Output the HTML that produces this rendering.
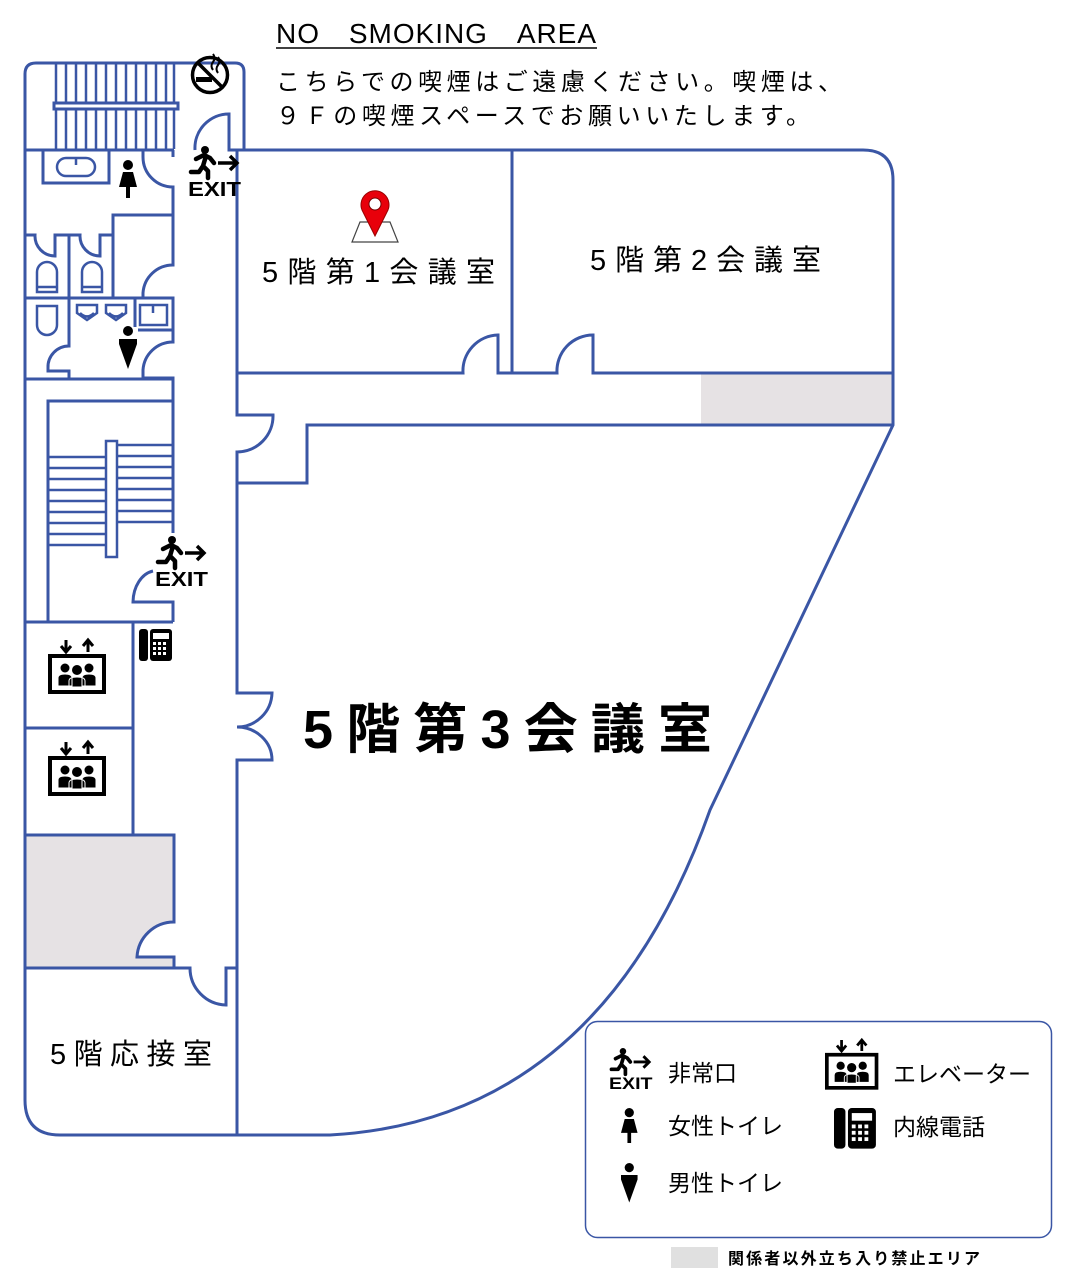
<!DOCTYPE html>
<html><head><meta charset="utf-8"><style>
html,body{margin:0;padding:0;background:#fff;}
svg{display:block;}
text{font-family:"Liberation Sans","Noto Sans CJK JP",sans-serif;}
</style></head><body>
<svg width="1072" height="1273" viewBox="0 0 1072 1273" xmlns="http://www.w3.org/2000/svg">
<defs>
<g id="exit">
  <circle cx="17" cy="4" r="4" fill="#000"/>
  <path d="M8 13 L16 9 L22 12 L26 17 M18 10 L15 20 L20 25 L20 32 M15 20 L11 26 L3 26" fill="none" stroke="#000" stroke-width="4.5" stroke-linejoin="round" stroke-linecap="round"/>
  <path d="M30 17 H49 M42 10 L49 17 L42 24" fill="none" stroke="#000" stroke-width="3.5"/>
  <text x="0" y="50" font-size="20" font-weight="bold" fill="#000" textLength="53" lengthAdjust="spacingAndGlyphs">EXIT</text>
</g>
<g id="female">
  <circle cx="9" cy="5" r="5" fill="#000"/>
  <path d="M4 12 H14 L18 27 H11 V38 H7 V27 H0 Z" fill="#000"/>
</g>
<g id="male">
  <circle cx="9" cy="5" r="5" fill="#000"/>
  <path d="M0 13 H18 V18 L9 43 L0 18 Z" fill="#000"/>
</g>
<g id="elev">
  <path d="M18 0 V10 M13 6 L18 12 L23 6 M40 12 V2 M35 6 L40 0 L45 6" fill="none" stroke="#000" stroke-width="3"/>
  <rect x="2" y="16" width="54" height="36" fill="none" stroke="#000" stroke-width="4"/>
  <circle cx="17" cy="28" r="4.5" fill="#000"/><circle cx="41" cy="28" r="4.5" fill="#000"/>
  <circle cx="29" cy="30" r="5" fill="#000"/>
  <path d="M10 46 V38 Q10 34 17 34 Q24 34 24 38 V46 Z M34 46 V38 Q34 34 41 34 Q48 34 48 38 V46 Z M21 47 V41 Q21 37 29 37 Q37 37 37 41 V47 Z" fill="#000" stroke="#fff" stroke-width="1"/>
</g>
<g id="phone">
  <rect x="0" y="0" width="9" height="32" rx="3" fill="#000"/>
  <rect x="11" y="0" width="22" height="32" rx="3" fill="#000"/>
  <rect x="14" y="4" width="16" height="6" fill="#fff"/>
  <g fill="#fff">
    <rect x="14" y="13" width="3" height="3"/><rect x="19" y="13" width="3" height="3"/><rect x="24" y="13" width="3" height="3"/>
    <rect x="14" y="18" width="3" height="3"/><rect x="19" y="18" width="3" height="3"/><rect x="24" y="18" width="3" height="3"/>
    <rect x="14" y="23" width="3" height="3"/><rect x="19" y="23" width="3" height="3"/><rect x="24" y="23" width="3" height="3"/>
  </g>
</g>
</defs>

<!-- header -->
<text x="276" y="43" font-size="28" fill="#000" textLength="320" lengthAdjust="spacing">NO　SMOKING　AREA</text>
<line x1="276" y1="48" x2="597" y2="48" stroke="#000" stroke-width="1.5"/>
<text x="276" y="90" font-size="24" fill="#000" textLength="566" lengthAdjust="spacing">こちらでの喫煙はご遠慮ください。喫煙は、</text>
<text x="276" y="124" font-size="24" fill="#000" textLength="534" lengthAdjust="spacing">９Ｆの喫煙スペースでお願いいたします。</text>

<!-- gray areas -->
<rect x="701" y="374" width="192" height="51" fill="#e6e2e4"/>
<path d="M25 835 H174 V922 A37 37 0 0 0 137 957 H174 V968 H25 Z" fill="#e6e2e4"/>

<g fill="none" stroke="#3a56a5" stroke-width="3">
  <!-- outer -->
  <path d="M244 150 V72 Q244 63 235 63 H36 Q25 63 25 74 V1100 Q25 1135 60 1135 H330 Q600 1120 710 810 L893 425 V180 Q893 150 863 150 H244"/>
  <!-- stairs top -->
  <g stroke-width="2.5">
    <line x1="56" y1="63" x2="56" y2="149"/><line x1="66" y1="63" x2="66" y2="149"/><line x1="76" y1="63" x2="76" y2="149"/><line x1="86" y1="63" x2="86" y2="149"/><line x1="96" y1="63" x2="96" y2="149"/><line x1="106" y1="63" x2="106" y2="149"/><line x1="116" y1="63" x2="116" y2="149"/><line x1="126" y1="63" x2="126" y2="149"/><line x1="136" y1="63" x2="136" y2="149"/><line x1="146" y1="63" x2="146" y2="149"/><line x1="156" y1="63" x2="156" y2="149"/><line x1="166" y1="63" x2="166" y2="149"/><line x1="174" y1="63" x2="174" y2="149"/>
  </g>
  <rect x="54" y="103" width="124" height="6" fill="#fff"/>
  <line x1="25" y1="150" x2="174" y2="150"/>
  <!-- top exit door -->
  <path d="M195 150 A34 34 0 0 1 229 114 V150 H244"/>
  <line x1="173" y1="150" x2="173" y2="157"/>
  <!-- women's -->
  <rect x="43" y="150" width="66" height="33"/>
  <rect x="57" y="158" width="38" height="18" rx="9" stroke-width="2.5"/>
  <line x1="76" y1="157" x2="76" y2="165" stroke-width="2.5"/>
  <path d="M143 150 V157 A30 30 0 0 0 173 187 V265 A30 30 0 0 0 143 293 V298 H173 V342 A30 30 0 0 0 143 370 V378 H173 V533"/>
  <path d="M113 298 V215 H173"/>
  <path d="M25 235 H35 A20 20 0 0 0 55 256 V235 H80 A20 20 0 0 0 100 256 V235 H113"/>
  <line x1="69" y1="235" x2="69" y2="298"/>
  <path d="M37 292 V272 A10 10 0 0 1 57 272 V292 Z M37 287 H57" stroke-width="2.5"/>
  <path d="M82 292 V272 A10 10 0 0 1 102 272 V292 Z M82 287 H102" stroke-width="2.5"/>
  <line x1="25" y1="298" x2="173" y2="298"/>
  <!-- men's -->
  <path d="M37 306 H57 V325 A10 10 0 0 1 37 325 Z" stroke-width="2.5"/>
  <path d="M77 305 H97 V313 L87 320 L77 313 Z M80 313 Q87 320 94 313" stroke-width="2.5"/>
  <path d="M106 305 H126 V313 L116 320 L106 313 Z M109 313 Q116 320 123 313" stroke-width="2.5"/>
  <line x1="135" y1="298" x2="135" y2="327"/>
  <rect x="140" y="305" width="27" height="20" stroke-width="2.5"/>
  <line x1="153" y1="305" x2="153" y2="313" stroke-width="2.5"/>
  <line x1="138" y1="330" x2="173" y2="330"/>
  <path d="M69 298 V346 A21 21 0 0 0 48 368 V371 H69 V378"/>
  <line x1="25" y1="379" x2="173" y2="379"/>
  <!-- lower stairs -->
  <path d="M48 622 V401 H173"/>
  <g stroke-width="2.5">
    <line x1="48" y1="457" x2="105" y2="457"/><line x1="48" y1="468" x2="105" y2="468"/><line x1="48" y1="479" x2="105" y2="479"/><line x1="48" y1="490" x2="105" y2="490"/><line x1="48" y1="501" x2="105" y2="501"/><line x1="48" y1="512" x2="105" y2="512"/><line x1="48" y1="523" x2="105" y2="523"/><line x1="48" y1="534" x2="105" y2="534"/><line x1="48" y1="545" x2="105" y2="545"/>
    <line x1="117" y1="445" x2="173" y2="445"/><line x1="117" y1="456" x2="173" y2="456"/><line x1="117" y1="467" x2="173" y2="467"/><line x1="117" y1="478" x2="173" y2="478"/><line x1="117" y1="489" x2="173" y2="489"/><line x1="117" y1="500" x2="173" y2="500"/><line x1="117" y1="511" x2="173" y2="511"/><line x1="117" y1="522" x2="173" y2="522"/>
  </g>
  <rect x="106" y="441" width="11" height="116" fill="#fff" stroke-width="2.5"/>
  <path d="M153 571 A24 32 0 0 0 133 602 H173 V622"/>
  <line x1="25" y1="622" x2="173" y2="622"/>
  <!-- elevators -->
  <line x1="133" y1="622" x2="133" y2="835"/>
  <line x1="25" y1="728" x2="133" y2="728"/>
  <path d="M25 835 H174 V922 A37 37 0 0 0 137 957 H174 V968"/>
  <path d="M25 968 H190 A37 37 0 0 0 226 1005 V968 H237"/>
  <!-- corridor right wall -->
  <path d="M237 150 V415 H273 A36 36 0 0 1 237 452 V483 H307 V425 H893"/>
  <path d="M237 483 V693 H272 A35 35 0 0 1 237 727 A35 33 0 0 1 272 760 H237 V1135"/>
  <!-- rooms -->
  <line x1="512" y1="150" x2="512" y2="373"/>
  <path d="M237 373 H463 A36 36 0 0 1 498 335 V373 H557 A36 36 0 0 1 593 335 V373 H893"/>
</g>

<!-- no smoking -->
<g>
  <circle cx="210" cy="75" r="17.5" fill="none" stroke="#000" stroke-width="3.5"/>
  <rect x="196" y="77" width="16" height="5" fill="#000"/>
  <path d="M213 70 q-3 -4 0 -8 q3 -4 0 -8 M218 73 q-3 -4 0 -8 q3 -4 0 -8" fill="none" stroke="#000" stroke-width="2"/>
  <line x1="198" y1="63" x2="222" y2="87" stroke="#000" stroke-width="3.5"/>
</g>

<!-- icons on map -->
<use href="#exit" transform="translate(188,146)"/>
<use href="#exit" transform="translate(155,536)"/>
<use href="#female" transform="translate(119,160)"/>
<use href="#male" transform="translate(119,326)"/>
<use href="#elev" transform="translate(48,640)"/>
<use href="#elev" transform="translate(48,742)"/>
<use href="#phone" transform="translate(139,629)"/>

<!-- pin -->
<path d="M360 222 H390 L398 242 H352 Z" fill="#fff" stroke="#444" stroke-width="1.2"/>
<path d="M375 236 L363 212 A14 14 0 1 1 387 212 Z" fill="#e8000b" stroke="#900" stroke-width="1"/>
<circle cx="375" cy="204" r="6" fill="#fff" stroke="#700" stroke-width="1"/>

<!-- labels -->
<text x="262" y="282" font-size="29" fill="#000" textLength="233" lengthAdjust="spacing">5階第1会議室</text>
<text x="590" y="270" font-size="29" fill="#000" textLength="231" lengthAdjust="spacing">5階第2会議室</text>
<text x="303" y="748" font-size="54" fill="#000" font-weight="bold" textLength="409" lengthAdjust="spacing">5階第3会議室</text>
<text x="50" y="1064" font-size="29" fill="#000" textLength="162" lengthAdjust="spacing">5階応接室</text>

<!-- legend -->
<rect x="585.5" y="1021.5" width="466" height="216" rx="12" fill="none" stroke="#3a56a5" stroke-width="1.5"/>
<use href="#exit" transform="translate(609,1048) scale(0.82)"/>
<text x="668" y="1081" font-size="23" fill="#000">非常口</text>
<use href="#female" transform="translate(621,1108) scale(0.92)"/>
<text x="668" y="1134" font-size="23" fill="#000">女性トイレ</text>
<use href="#male" transform="translate(621,1163) scale(0.92)"/>
<text x="668" y="1191" font-size="23" fill="#000">男性トイレ</text>
<use href="#elev" transform="translate(825,1040) scale(0.92)"/>
<text x="893" y="1082" font-size="23" fill="#000" textLength="138" lengthAdjust="spacing">エレベーター</text>
<use href="#phone" transform="translate(834,1108) scale(1.27)"/>
<text x="893" y="1135" font-size="23" fill="#000">内線電話</text>
<rect x="671" y="1247" width="47" height="21" fill="#e0e0e0"/>
<text x="728" y="1264" font-size="16" font-weight="bold" fill="#000" textLength="252" lengthAdjust="spacing">関係者以外立ち入り禁止エリア</text>
</svg>
</body></html>
